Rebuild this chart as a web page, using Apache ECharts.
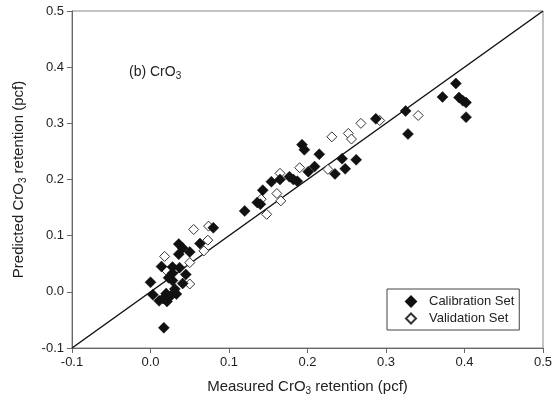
<!DOCTYPE html>
<html><head><meta charset="utf-8">
<script src="https://cdn.jsdelivr.net/npm/echarts@6/dist/echarts.min.js"></script>
<style>html,body{margin:0;padding:0;background:#fff}#c{width:556px;height:403px}</style>
</head><body><div id="c"></div>
<script>
const calX = [0.389,0.372,0.393,0.398,0.402,0.402,0.325,0.328,0.287,0.244,0.262,0.248,0.235,0.215,0.193,0.196,0.209,0.201,0.154,0.165,0.177,0.182,0.187,0.143,0.136,0.140,0.120,0.080,0.036,0.063,0.036,0.050,0.014,0.028,0.037,0.028,0.045,0.000,0.028,0.041,0.023,0.003,0.031,0.033,0.011,0.021,0.016,0.020,0.026,0.017,0.041];
const calY = [0.371,0.347,0.346,0.340,0.337,0.311,0.322,0.281,0.308,0.237,0.235,0.219,0.210,0.245,0.262,0.253,0.223,0.214,0.196,0.200,0.205,0.200,0.197,0.181,0.159,0.156,0.144,0.114,0.085,0.086,0.067,0.071,0.045,0.044,0.043,0.033,0.031,0.017,0.020,0.015,0.025,-0.005,0.005,-0.004,-0.016,-0.017,-0.012,-0.003,-0.007,-0.064,0.078];
const valX = [0.341,0.292,0.268,0.231,0.252,0.256,0.226,0.190,0.165,0.161,0.166,0.141,0.148,0.055,0.074,0.073,0.068,0.018,0.050,0.021,0.050];
const valY = [0.314,0.305,0.300,0.276,0.282,0.272,0.218,0.221,0.211,0.175,0.162,0.165,0.138,0.111,0.117,0.092,0.073,0.063,0.052,0.037,0.014];
const lineX = [-0.1, 0.5];
const lineY = [-0.1, 0.5];
const axisMin = -0.1, axisMax = 0.5, axisStep = 0.1;

const font = 'Liberation Sans, Arial, sans-serif';
const txt = '#222';
const subRich = {
  sub: {fontSize: 10, fontFamily: font, color: txt, padding: [8, 0, 0, 0]}
};
const chart = echarts.init(document.getElementById('c'), null, {renderer: 'canvas'});
const fmt = v => (Math.round(v * 10) / 10).toFixed(1);
const axisCommon = {
  min: axisMin, max: axisMax, interval: axisStep,
  axisLine: {show: true, onZero: false, lineStyle: {color: '#666', width: 1}},
  axisTick: {show: true, inside: false, length: 5, lineStyle: {color: '#666'}},
  splitLine: {show: false},
  axisLabel: {formatter: fmt, fontFamily: font, fontSize: 13, color: txt},
  nameLocation: 'middle',
};
chart.setOption({
  animation: false,
  title: {
    text: '(b) CrO{sub|3}', left: 124, top: 58,
    textStyle: {fontFamily: font, fontSize: 14, fontWeight: 'normal', color: txt, rich: subRich}
  },
  grid: {left: 72, right: 13, top: 11, bottom: 55, show: true, borderColor: '#888', borderWidth: 1, backgroundColor: '#fff'},
  legend: {
    orient: 'vertical', left: 387, top: 289,
    padding: [6, 5, 5, 18], itemGap: 4,
    borderColor: '#444', borderWidth: 1,
    itemWidth: 10, itemHeight: 10,
    textStyle: {fontFamily: font, fontSize: 13, color: txt, padding: [0, 0, 0, 8]},
    data: [{name: 'Calibration Set', icon: 'diamond'}, {name: 'Validation Set', icon: 'diamond'}]
  },
  xAxis: Object.assign({}, axisCommon, {
    type: 'value', name: 'Measured CrO{sub|3} retention (pcf)', nameGap: 30,
    axisLabel: Object.assign({}, axisCommon.axisLabel, {margin: 8}),
    nameTextStyle: {fontFamily: font, fontSize: 15, color: txt, rich: subRich}
  }),
  yAxis: Object.assign({}, axisCommon, {
    type: 'value', name: 'Predicted CrO{sub|3} retention (pcf)', nameGap: 44,
    nameTextStyle: {fontFamily: font, fontSize: 15, color: txt, rich: subRich}
  }),
  series: [
    {type: 'line', data: lineX.map((x, i) => [x, lineY[i]]), symbol: 'none', silent: true,
     lineStyle: {color: '#111', width: 1.5}, z: 1},
    {name: 'Calibration Set', type: 'scatter', data: calX.map((x, i) => [x, calY[i]]),
     symbol: 'diamond', symbolSize: 11, itemStyle: {color: '#111', borderColor: '#111', borderWidth: 0.5, opacity: 1}, z: 3},
    {name: 'Validation Set', type: 'scatter', data: valX.map((x, i) => [x, valY[i]]),
     symbol: 'diamond', symbolSize: 10, itemStyle: {color: '#fff', borderColor: '#333', borderWidth: 1, opacity: 1}, z: 2}
  ]
});
</script></body></html>
